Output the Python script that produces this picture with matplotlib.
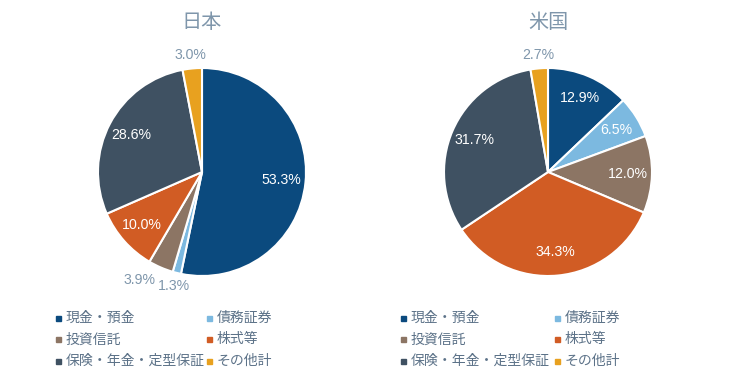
import numpy as np
import matplotlib
matplotlib.use('Agg')
import matplotlib.pyplot as plt

plt.rcParams['font.family'] = ['Noto Sans CJK JP', 'DejaVu Sans']

# DATA
categories = ['現金・預金', '債務証券', '投資信託', '株式等', '保険・年金・定型保証', 'その他計']
japan = [53.3, 1.3, 3.9, 10.0, 28.6, 3.0]
usa = [12.9, 6.5, 12.0, 34.3, 31.7, 2.7]
titles = ['日本', '米国']
colors = ['#0b4a7e', '#7cb9e0', '#8c7564', '#d15c24', '#3f5162', '#e8a11f']

W, H = 750, 378
title_col = '#7f96ab'
text_col = '#5c7288'


def draw_pie(fig, cx, cy, r, vals, title):
    ax = fig.add_axes([(cx - r) / W, (H - cy - r) / H, 2 * r / W, 2 * r / H])
    ax.pie(vals, colors=colors, startangle=90, counterclock=False, radius=1.0,
           wedgeprops=dict(edgecolor='white', linewidth=1.5))
    ax.set_xlim(-1, 1); ax.set_ylim(-1, 1)
    ax.axis('off')
    # percentage labels: big slices inside, small ones outside
    cum = np.cumsum([0] + vals[:-1])
    tot = float(sum(vals))
    for v, c in zip(vals, cum):
        ang = np.deg2rad(90 - (c + v / 2) / tot * 360)
        ha = 'center'
        if v < 5:
            rr, col = 1.13, title_col
            if np.cos(ang) < -0.35:
                ha = 'right'
        else:
            rr, col = 0.77, 'white'
        ax.text(rr * np.cos(ang), rr * np.sin(ang), '{:.1f}%'.format(v), ha=ha, va='center',
                fontsize=10.2, color=col, family=['Liberation Sans'], clip_on=False)
    fig.text(cx / W, 1 - 23 / H, title, ha='center', va='center', fontsize=14.5, color=title_col)


def draw_legend(fig, x0, dx):
    for i, lab in enumerate(categories):
        row, col = i // 2, i % 2
        x = x0 + col * dx
        y = 318 + row * 21.5
        fig.patches.append(plt.Rectangle(((x - 2.5) / W, 1 - (y + 2.5) / H), 5 / W, 5 / H,
                                         transform=fig.transFigure, color=colors[i], figure=fig))
        fig.text((x + 8) / W, 1 - y / H, lab, ha='left', va='center', fontsize=10, color=text_col)


fig = plt.figure(figsize=(7.5, 3.78), dpi=100)
draw_pie(fig, 202, 172, 104, japan, titles[0])
draw_pie(fig, 548, 172, 104, usa, titles[1])
draw_legend(fig, 58, 151)
draw_legend(fig, 403, 154)
fig.savefig('out.png', dpi=100)
